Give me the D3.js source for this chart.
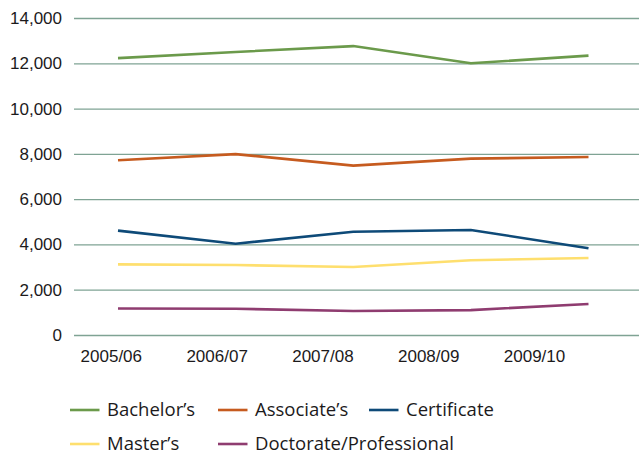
<!DOCTYPE html>
<html>
<head>
<meta charset="utf-8">
<script src="https://cdn.jsdelivr.net/npm/d3@7"></script>
<style>
  body { margin: 0; background: #fff; }
  svg { display: block; }
</style>
</head>
<body>
<svg id="chart"></svg>
<script>
const years = ["2005/06", "2006/07", "2007/08", "2008/09", "2009/10"];
const yTicks = [0, 2000, 4000, 6000, 8000, 10000, 12000, 14000];

const bachelors = [12230, 12500, 12760, 12000, 12340];
const associates = [7720, 7990, 7480, 7790, 7860];
const certificate = [4610, 4030, 4560, 4640, 3830];
const masters = [3120, 3090, 3000, 3300, 3400];
const doctorate = [1170, 1160, 1060, 1100, 1370];

const seriesNames = ["Bachelor\u2019s", "Associate\u2019s", "Certificate", "Master\u2019s", "Doctorate/Professional"];
const seriesValues = [bachelors, associates, certificate, masters, doctorate];
const seriesColors = ["#6b9a4b", "#c65b1f", "#0e4a78", "#fedf6e", "#8f3c70"];

const W = 639, H = 454;
const margin = { top: 18, right: 0, bottom: 119, left: 74 };
const w = W - margin.left - margin.right;
const h = H - margin.top - margin.bottom;

const svg = d3.select("#chart")
    .attr("width", W)
    .attr("height", H)
    .style("font-family", "'Open Sans', sans-serif");

const g = svg.append("g")
    .attr("transform", `translate(${margin.left},${margin.top})`);

// scales
const yScale = d3.scaleLinear().domain([0, 14000]).range([h, 0]);
// data points sit on a wider spacing than the labels do
const xScale = d3.scalePoint().domain(years).range([44, 514.5]);
const xLabel = d3.scalePoint().domain(years).range([36.8, 460]);

// gridlines + y labels
const yAxis = g.append("g")
    .attr("class", "y axis")
    .call(d3.axisLeft(yScale)
        .tickValues(yTicks)
        .tickSize(-w)
        .tickPadding(12)
        .tickFormat(d3.format(",")));
yAxis.select(".domain").remove();
yAxis.selectAll(".tick line")
    .attr("stroke", "#7fa394")
    .attr("stroke-width", 1.3);
yAxis.selectAll(".tick text")
    .attr("fill", "#1c1a1b")
    .style("font-size", "17px");

// x labels
const xAxis = g.append("g")
    .attr("class", "x axis")
    .attr("transform", `translate(0,${h})`)
    .call(d3.axisBottom(xLabel).tickSize(0).tickPadding(15));
xAxis.select(".domain").remove();
xAxis.selectAll(".tick text")
    .attr("fill", "#1c1a1b")
    .style("font-size", "17px");

// lines
const line = d3.line()
    .x((d, i) => xScale(years[i]))
    .y(d => yScale(d));

g.selectAll(".series")
    .data(seriesValues)
    .enter()
    .append("path")
    .attr("class", "series")
    .attr("d", line)
    .attr("fill", "none")
    .attr("stroke", (d, i) => seriesColors[i])
    .attr("stroke-width", 2.6)
    .attr("stroke-linejoin", "miter");

// legend
const legendPos = [[70, 410], [218, 410], [369, 410], [70, 444], [218, 444]];

const legend = svg.append("g").attr("class", "legend");
const items = legend.selectAll(".legend-item")
    .data(seriesNames)
    .enter()
    .append("g")
    .attr("class", "legend-item")
    .attr("transform", (d, i) => `translate(${legendPos[i][0]},${legendPos[i][1]})`);

items.append("line")
    .attr("x1", 0)
    .attr("x2", 29.5)
    .attr("y1", 0)
    .attr("y2", 0)
    .attr("stroke", (d, i) => seriesColors[i])
    .attr("stroke-width", 2.6);

items.append("text")
    .attr("x", 37)
    .attr("y", 0)
    .attr("dy", "0.34em")
    .attr("fill", "#1c1a1b")
    .style("font-size", "18.5px")
    .text(d => d);
</script>
</body>
</html>
